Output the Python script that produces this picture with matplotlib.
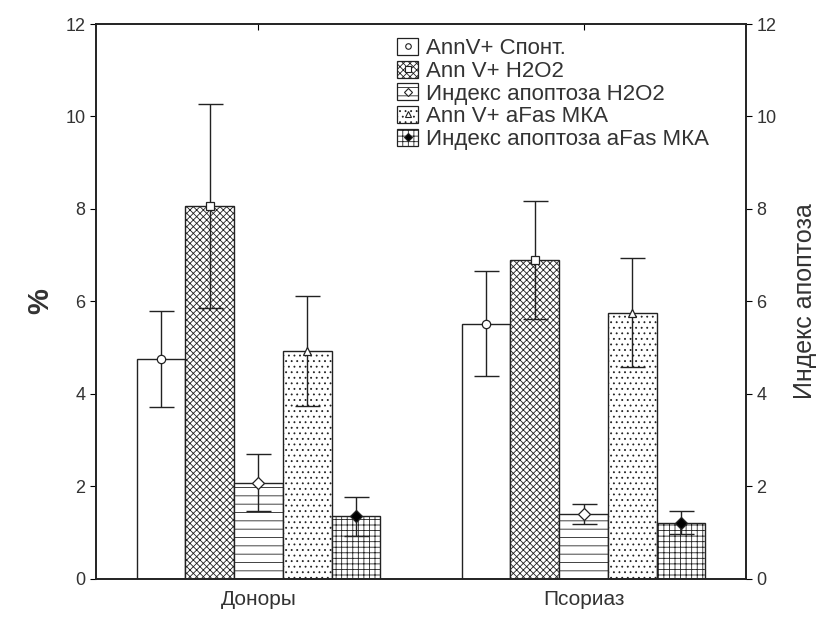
import matplotlib
matplotlib.use("Agg")
import numpy as np
from matplotlib import pyplot as plt
from matplotlib.patches import Patch
from matplotlib.lines import Line2D
from matplotlib.legend_handler import HandlerTuple

plt.rcParams['font.family'] = ['Liberation Sans', 'DejaVu Sans']
plt.rcParams['hatch.linewidth'] = 0.6

groups = ['Доноры', 'Псориаз']
series = ['AnnV+ Спонт.', 'Ann V+ H2O2', 'Индекс апоптоза H2O2',
          'Ann V+ aFas МКА', 'Индекс апоптоза aFas МКА']

# mean values per series, [Доноры, Псориаз]
spont = [4.75, 5.52]
h2o2 = [8.07, 6.90]
idx_h2o2 = [2.08, 1.40]
afas = [4.92, 5.76]
idx_afas = [1.36, 1.22]

# error half-widths
spont_err = [1.04, 1.14]
h2o2_err = [2.20, 1.27]
idx_h2o2_err = [0.62, 0.22]
afas_err = [1.19, 1.17]
idx_afas_err = [0.42, 0.25]

means = [spont, h2o2, idx_h2o2, afas, idx_afas]
errs = [spont_err, h2o2_err, idx_h2o2_err, afas_err, idx_afas_err]
hatches = [None, 'xxxxx', '--', '...', '+++']
markers = ['o', 's', 'D', '^', 'D']
mfaces = ['white', 'white', 'white', 'white', 'black']

ink = '#222222'
txt = '#333333'

fig = plt.figure(figsize=(8.19, 6.17), dpi=100)
ax = fig.add_axes([0.1172, 0.0616, 0.7937, 0.8995])

x = np.arange(len(groups))
w = 0.15
handles = []
for i in range(len(series)):
    pos = x + (i - 2) * w
    ax.bar(pos, means[i], width=w, color='white', edgecolor=ink,
           hatch=hatches[i], linewidth=1.0, zorder=2)
    ax.errorbar(pos, means[i], yerr=errs[i], fmt='none', ecolor=ink,
                elinewidth=1.0, capsize=9, capthick=1.0, zorder=3)
    ax.plot(pos, means[i], linestyle='none', marker=markers[i], ms=6,
            mfc=mfaces[i], mec=ink, mew=0.9, zorder=4)
    handles.append((Patch(facecolor='white', edgecolor=ink, hatch=hatches[i], linewidth=0.9),
                    Line2D([], [], linestyle='none', marker=markers[i], ms=4,
                           mfc=mfaces[i], mec=ink, mew=0.8)))

ax.set_xlim(-0.5, 1.5)
ax.set_ylim(0, 12)
ax.set_xticks(x)
ax.set_xticklabels(groups, fontsize=15, color=txt)
ax.tick_params(axis='x', direction='in', top=True, length=4, pad=8)
ax.set_yticks(np.arange(0, 13, 2))
ax.tick_params(axis='y', direction='out', length=4, labelsize=13, labelcolor=txt)
ax.set_ylabel('%', fontsize=21, fontweight='bold', color=txt, labelpad=8)

ax2 = ax.twinx()
ax2.set_ylim(0, 12)
ax2.set_yticks(np.arange(0, 13, 2))
ax2.tick_params(axis='y', direction='out', length=4, labelsize=13, labelcolor=txt)
ax2.set_ylabel('Индекс апоптоза', fontsize=18, color=txt, labelpad=12)

for a in (ax, ax2):
    for s in a.spines.values():
        s.set_color(ink)
        s.set_linewidth(1.2)

ax.legend(handles, series, handler_map={tuple: HandlerTuple(ndivide=1)},
          loc='upper left', bbox_to_anchor=(0.463, 0.975), frameon=False,
          borderaxespad=0, borderpad=0,
          fontsize=16, handlelength=0.95, handleheight=0.8, handletextpad=0.35,
          labelspacing=0.07, labelcolor=txt)

fig.savefig('out.png', dpi=100, facecolor='white')
